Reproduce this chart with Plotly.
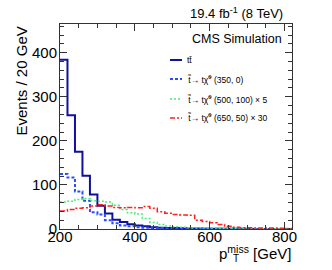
import plotly.graph_objects as go

# bin lower edges (20 GeV bins from 200 to 820)
bin_edges = list(range(200, 840, 20))

ttbar = [384, 258, 175, 121, 78, 53, 35, 21, 16, 11, 8, 6, 4, 3, 2.5, 2, 1.5, 1.2, 1,
         0.8, 0.6, 0.5, 0.4, 0.3, 0.3, 0.2, 0.2, 0.2, 0.1, 0.1, 0.1]
stop_350_0 = [125, 117, 85, 64, 38, 33, 20, 13, 8, 6, 4, 3, 2.5, 2, 1.5, 1, 1, 0.8, 0.6,
              0.5, 0.4, 0.3, 0.3, 0.2, 0.2, 0.2, 0.1, 0.1, 0.1, 0.1, 0.1]
stop_500_100 = [61, 63, 67, 69, 64, 63, 61, 54, 44, 37, 34, 24, 15, 10, 7, 5, 4, 3, 3, 2,
                2, 1.5, 1.2, 1, 1, 0.8, 0.6, 0.5, 0.5, 0.4, 0.3]
stop_650_50 = [41, 44, 47, 48, 52, 55, 52, 49, 48, 49, 48, 51, 47, 39, 36, 33, 32, 31, 20,
               17, 14, 10, 6, 4, 3, 3, 2, 2, 2, 1.5, 1]

series_names = ["tt\u0304",
                "t\u0303\u2192 t\u03c7\u0303<sup>0</sup> (350, 0)",
                "t\u0303\u2192 t\u03c7\u0303<sup>0</sup> (500, 100) \u00d7 5",
                "t\u0303\u2192 t\u03c7\u0303<sup>0</sup> (650, 50) \u00d7 30"]
series_vals = [ttbar, stop_350_0, stop_500_100, stop_650_50]
series_colors = ["#10109a", "#2a4dff", "#44ee77", "#ff2020"]
series_dash = ["solid", "3px,2px", "2px,2px", "5px,2px,2px,2px"]
series_width = [2, 2, 1.5, 1.5]

x_tickvals = [200, 400, 600, 800]
y_tickvals = [0, 100, 200, 300, 400]

FONT = "Liberation Sans, Arial, sans-serif"

fig = go.Figure()
for name, vals, col, dash, w in zip(series_names, series_vals, series_colors, series_dash, series_width):
    fig.add_trace(go.Scatter(
        x=bin_edges, y=vals + [vals[-1]], mode="lines", name=name,
        line=dict(color=col, dash=dash, width=w, shape="hv"),
        showlegend=False, hoverinfo="skip"))

L, R, T, B = 60, 40, 24, 41
W, H = 332, 270
pw, ph = W - L - R, H - T - B

def px_x(px):
    return (px - L) / pw

def px_y(py):
    return (H - B - py) / ph

# manual legend
leg_y = [60, 79, 99, 118]
for i, (name, col, dash, w) in enumerate(zip(series_names, series_colors, series_dash, series_width)):
    fig.add_shape(type="line", xref="paper", yref="paper",
                  x0=px_x(170), x1=px_x(182), y0=px_y(leg_y[i]), y1=px_y(leg_y[i]),
                  line=dict(color=col, dash=dash, width=w))
    fig.add_annotation(xref="paper", yref="paper", x=px_x(185), y=px_y(leg_y[i]),
                       text=name, showarrow=False, xanchor="left", yanchor="middle",
                       font=dict(family=FONT, size=8.5, color="black"))

fig.add_annotation(xref="paper", yref="paper", x=px_x(284), y=px_y(39),
                   text="CMS Simulation", showarrow=False, xanchor="right", yanchor="middle",
                   font=dict(family=FONT, size=12.5, color="black"))
fig.add_annotation(xref="paper", yref="paper", x=px_x(285), y=px_y(13),
                   text="19.4 fb<sup>-1</sup> (8 TeV)", showarrow=False, xanchor="right",
                   yanchor="middle", font=dict(family=FONT, size=13, color="black"))
# x-axis title: p with stacked T / miss
fig.add_annotation(xref="paper", yref="paper", x=px_x(293), y=px_y(252),
                   text="p<sup>miss</sup> [GeV]", showarrow=False, xanchor="right",
                   yanchor="middle", font=dict(family=FONT, size=15, color="black"))
fig.add_annotation(xref="paper", yref="paper", x=px_x(231), y=px_y(258),
                   text="T", showarrow=False, xanchor="left",
                   yanchor="middle", font=dict(family=FONT, size=10, color="black"))
fig.add_annotation(xref="paper", yref="paper", x=px_x(21), y=px_y(25),
                   text="Events / 20 GeV", showarrow=False, textangle=-90,
                   xanchor="center", yanchor="top",
                   font=dict(family=FONT, size=15, color="black"))

axis_common = dict(showgrid=False, zeroline=False, showline=True, linecolor="#333",
                   linewidth=1, mirror="allticks", ticks="inside", ticklen=7,
                   tickcolor="#333", tickwidth=1,
                   tickfont=dict(family=FONT, size=15, color="black"))

fig.update_xaxes(range=[200, 820], tickvals=x_tickvals, ticktext=[str(v) for v in x_tickvals],
                 minor=dict(dtick=50, ticks="inside", ticklen=4, tickcolor="#333"),
                 ticklabelstandoff=-6, **axis_common)
fig.update_yaxes(range=[0, 465], tickvals=y_tickvals, ticktext=[str(v) for v in y_tickvals],
                 minor=dict(dtick=20, ticks="inside", ticklen=4, tickcolor="#333"),
                 ticklabelstandoff=-1, **axis_common)

fig.update_layout(width=W, height=H, margin=dict(l=L, r=R, t=T, b=B),
                  paper_bgcolor="white", plot_bgcolor="white", showlegend=False,
                  font=dict(family=FONT))

fig.write_html("out.html", config={"displayModeBar": False},
               post_script="document.body.style.margin='0px';")
